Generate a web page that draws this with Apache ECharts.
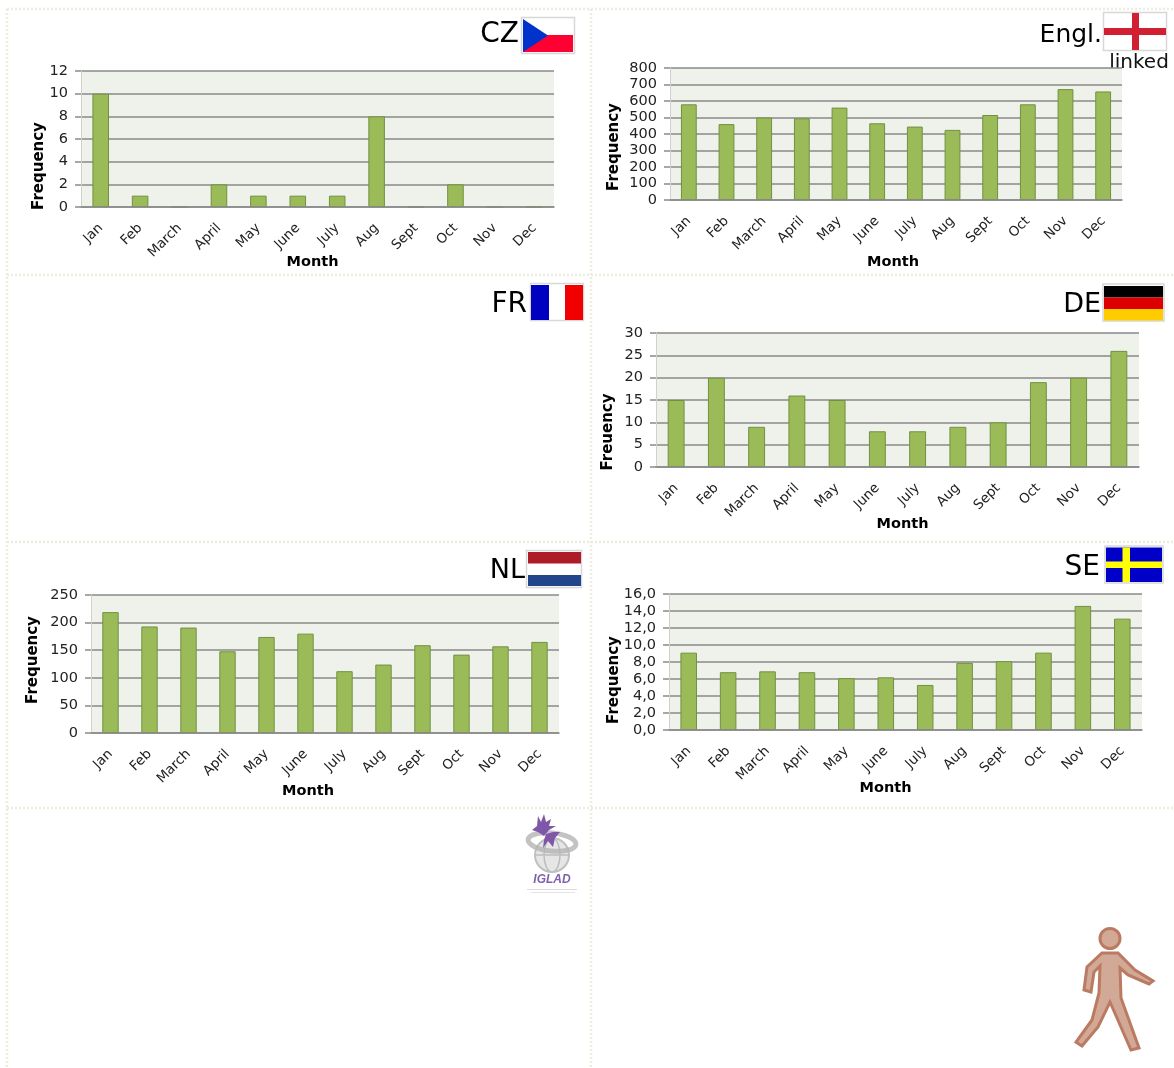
<!DOCTYPE html>
<html>
<head>
<meta charset="utf-8">
<title>Monthly frequency by country</title>
<script src="https://cdn.jsdelivr.net/npm/echarts@6/dist/echarts.min.js"></script>
<style>
  html, body { margin: 0; padding: 0; background: #fff; }
  /* the source picture is a soft upscaled image */
  #chart { width: 1174px; height: 1068px; filter: blur(0.45px); }
</style>
</head>
<body>
<div id="chart"></div>
<script>
var months = ['Jan', 'Feb', 'March', 'April', 'May', 'June', 'July', 'Aug', 'Sept', 'Oct', 'Nov', 'Dec'];
var czValues = [10, 1, 0, 2, 1, 1, 1, 8, 0, 2, 0, 0];
var englValues = [580, 460, 500, 495, 560, 465, 445, 425, 515, 580, 672, 658];
var deValues = [15, 20, 9, 16, 15, 8, 8, 9, 10, 19, 20, 26];
var nlValues = [219, 193, 191, 148, 174, 180, 112, 124, 159, 142, 157, 165];
var seValues = [9.1, 6.8, 6.9, 6.8, 6.1, 6.2, 5.3, 7.9, 8.1, 9.1, 14.6, 13.1];

var FONT = '"DejaVu Sans", Verdana, sans-serif';
var GRID_COLOR = '#8a8a8a';

// one entry per chart: plot box, y scale, and where the axis names sit
var panels = [
  { values: czValues, yName: 'Frequency', left: 81, right: 554, top: 71, bottom: 207, max: 12, interval: 2, yGap: 34, yShift: 27, xGap: 48, xShift: -5 },
  { values: englValues, yName: 'Frequency', left: 670, right: 1122, top: 68, bottom: 200, max: 800, interval: 100, yGap: 48, yShift: 13, xGap: 55, xShift: -3 },
  { values: deValues, yName: 'Freuency', left: 656, right: 1139, top: 333, bottom: 467, max: 30, interval: 5, yGap: 40, yShift: 32, xGap: 50, xShift: 5 },
  { values: nlValues, yName: 'Frequency', left: 91, right: 559, top: 595, bottom: 733, max: 250, interval: 50, yGap: 50, yShift: -4, xGap: 51, xShift: -17 },
  { values: seValues, yName: 'Frequency', left: 669, right: 1142, top: 594, bottom: 730, max: 16, interval: 2, yGap: 47, yShift: 18, xGap: 51, xShift: -20, decimal: true }
];

var W = 1174, H = 1068;
var grids = [], xAxes = [], yAxes = [], series = [];

panels.forEach(function (p, i) {
  grids.push({
    left: p.left,
    top: p.top,
    width: p.right - p.left,
    height: p.bottom - p.top,
    show: true,
    backgroundColor: '#eff2ea',
    borderWidth: 0
  });
  xAxes.push({
    type: 'category',
    gridIndex: i,
    z: 4, // keeps the empty months from showing a sliver of bar border
    data: months,
    name: 'Month',
    nameLocation: 'middle',
    nameGap: p.xGap,
    nameMoveOverlap: false,
    nameTextStyle: {
      fontFamily: FONT,
      fontWeight: 'bold',
      fontSize: 14.5,
      color: '#000',
      // shift along the axis, padding on one side only moves the centred text
      padding: p.xShift > 0 ? [0, 0, 0, 2 * p.xShift] : [0, -2 * p.xShift, 0, 0]
    },
    axisLine: { show: true, lineStyle: { color: GRID_COLOR, width: 1.5 } },
    axisTick: { show: false },
    axisLabel: {
      interval: 0,
      rotate: 45,
      margin: 19,
      fontFamily: FONT,
      fontSize: 13.5,
      color: '#222'
    }
  });
  yAxes.push({
    type: 'value',
    gridIndex: i,
    min: 0,
    max: p.max,
    interval: p.interval,
    name: p.yName,
    nameLocation: 'middle',
    nameGap: p.yGap,
    nameRotate: 90,
    nameMoveOverlap: false,
    nameTextStyle: {
      fontFamily: FONT,
      fontWeight: 'bold',
      fontSize: 15,
      color: '#000',
      padding: p.yShift > 0 ? [0, 2 * p.yShift, 0, 0] : [0, 0, 0, -2 * p.yShift]
    },
    axisLine: { show: true, lineStyle: { color: '#d0d0cc', width: 1 } },
    axisTick: { show: true, length: 6, lineStyle: { color: GRID_COLOR, width: 1.5 } },
    axisLabel: {
      margin: 13,
      fontFamily: FONT,
      fontSize: 14.5,
      color: '#222',
      formatter: p.decimal ? function (v) { return v.toFixed(1).replace('.', ','); } : '{value}'
    },
    splitLine: { show: true, lineStyle: { color: GRID_COLOR, width: 1.5 } }
  });
  series.push({
    type: 'bar',
    xAxisIndex: i,
    yAxisIndex: i,
    data: p.values,
    barWidth: '42%',
    itemStyle: { color: '#9bbb59', borderColor: '#6f9240', borderWidth: 1 },
    silent: true
  });
});

// helpers for the decoration
function rect(x, y, w, h, fill) {
  return { type: 'rect', shape: { x: x, y: y, width: w, height: h }, style: { fill: fill }, silent: true };
}
function flagFrame(x, y, w, h) {
  return { type: 'rect', shape: { x: x, y: y, width: w, height: h }, style: { fill: '#fff', stroke: '#d8d8d8', lineWidth: 1.5 }, silent: true };
}
function label(text, right, y, size) {
  return { type: 'text', style: { text: text, x: right, y: y, align: 'right', verticalAlign: 'middle', font: size + 'px ' + FONT, fill: '#000' }, silent: true };
}
function dotted(x1, y1, x2, y2) {
  return { type: 'line', shape: { x1: x1, y1: y1, x2: x2, y2: y2 }, style: { stroke: '#ecece0', lineWidth: 2.5, lineDash: [2, 2] }, silent: true };
}

var graphics = [
  dotted(7, 9, 7, H), dotted(591, 9, 591, H),
  dotted(7, 9, W, 9), dotted(7, 275, W, 275), dotted(7, 542, W, 542), dotted(7, 808, W, 808),

  // CZ
  label('CZ', 519, 35, 28),
  flagFrame(521.5, 17.5, 53, 36),
  rect(523, 19, 50, 16, '#ffffff'), rect(523, 35, 50, 17, '#ff0033'),
  { type: 'polygon', shape: { points: [[523, 19], [548, 35.5], [523, 52]] }, style: { fill: '#0033cc' }, silent: true },

  // England
  label('Engl.', 1102, 35, 25),
  flagFrame(1103.5, 12.5, 63, 38),
  rect(1104, 28, 62, 7, '#d31f32'), rect(1132, 13, 7, 37, '#d31f32'),
  { type: 'text', style: { text: 'linked', x: 1139, y: 63, align: 'center', verticalAlign: 'middle', font: '20px ' + FONT, fill: '#111' }, silent: true },

  // FR
  label('FR', 527, 305, 28),
  flagFrame(530.5, 283.5, 53, 37),
  rect(531, 285, 18, 35, '#0000c0'), rect(565, 285, 18, 35, '#f00000'),

  // DE
  label('DE', 1101, 305, 27),
  flagFrame(1103, 284, 61, 37),
  rect(1104, 286, 59, 11.5, '#000000'), rect(1104, 297.5, 59, 11.5, '#dd0000'), rect(1104, 309, 59, 11.5, '#ffcc00'),

  // NL
  label('NL', 525, 571, 27),
  flagFrame(526.5, 550.5, 55, 37),
  rect(528, 552, 53, 11.5, '#ae1c28'), rect(528, 575, 53, 11, '#21468b'),

  // SE
  label('SE', 1100, 568, 28),
  flagFrame(1105, 546, 58, 37),
  rect(1106, 547.5, 56, 34.5, '#0000c8'),
  rect(1106, 561.5, 56, 6.5, '#ffff00'), rect(1122.5, 547.5, 7.5, 34.5, '#ffff00'),

  // IGLAD logo
  { type: 'circle', shape: { cx: 552, cy: 855, r: 17 }, style: { fill: '#e6e6e6', stroke: '#c0c0c0', lineWidth: 2 }, silent: true },
  { type: 'ellipse', shape: { cx: 552, cy: 855, rx: 8, ry: 17 }, style: { fill: 'none', stroke: '#bdbdbd', lineWidth: 1.5 }, silent: true },
  { type: 'line', shape: { x1: 535, y1: 855, x2: 569, y2: 855 }, style: { stroke: '#bdbdbd', lineWidth: 1.5 }, silent: true },
  { type: 'ellipse', shape: { cx: 0, cy: 0, rx: 24, ry: 9 }, x: 552, y: 842, rotation: -0.1, style: { fill: 'none', stroke: '#b4b4b4', lineWidth: 5, opacity: 0.8 }, silent: true },
  { type: 'polygon', shape: { points: [[538, 816], [541, 822], [544, 814], [546, 822], [551, 819], [549, 826], [556, 826], [549, 830], [544, 836], [538, 832], [532, 830], [537, 826]] }, style: { fill: '#7e57a8' }, silent: true },
  { type: 'polygon', shape: { points: [[560, 832], [555, 838], [553, 847], [548, 841], [543, 848], [544, 840], [546, 834], [553, 832]] }, style: { fill: '#7e57a8' }, silent: true },
  { type: 'text', style: { text: 'IGLAD', x: 552, y: 880, align: 'center', verticalAlign: 'middle', font: 'italic bold 12px "Liberation Sans", sans-serif', fill: '#7f62aa' }, silent: true },
  rect(527, 889, 50, 1, '#dcdcdc'), rect(531, 892, 44, 1, '#e4e4e4'),

  // walking figure
  { type: 'polygon', shape: { points: [[1102, 953], [1118, 953], [1135, 970], [1153, 981], [1149, 984], [1128, 975], [1120, 968], [1121, 998], [1139, 1048], [1131, 1050], [1110, 1002], [1098, 1027], [1082, 1046], [1076, 1042], [1092, 1020], [1099, 993], [1100, 966], [1094, 972], [1091, 992], [1084, 990], [1087, 967]] }, style: { fill: '#d2a996', stroke: '#bb7a62', lineWidth: 3, lineJoin: 'miter' }, silent: true },
  { type: 'circle', shape: { cx: 1110, cy: 938.5, r: 10 }, style: { fill: '#d2a996', stroke: '#bb7a62', lineWidth: 3 }, silent: true }
];

var myChart = echarts.init(document.getElementById('chart'), null, { renderer: 'canvas' });
myChart.setOption({
  animation: false,
  backgroundColor: '#fff',
  grid: grids,
  xAxis: xAxes,
  yAxis: yAxes,
  series: series,
  graphic: { elements: graphics }
});
</script>
</body>
</html>
